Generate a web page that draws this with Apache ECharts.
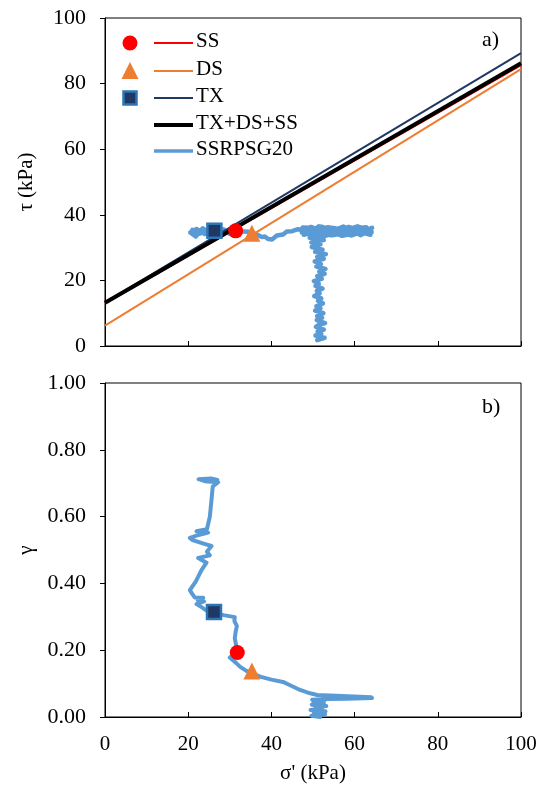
<!DOCTYPE html>
<html><head><meta charset="utf-8">
<script src="https://cdn.jsdelivr.net/npm/echarts@6/dist/echarts.min.js"></script>
<style>html,body{margin:0;padding:0;background:#fff}#c{width:550px;height:794px}</style>
</head><body><div id="c"></div>
<script>
// ---- data ----
const seriesNames = ['SS', 'DS', 'TX', 'TX+DS+SS', 'SSRPSG20'];
// failure envelopes (endpoints, sigma' kPa, tau kPa)
const lineSS = [[0, 13.0], [100, 85.6]];
const lineDS = [[0, 6.2], [100, 84.4]];
const lineTX = [[0, 13.3], [100, 89.3]];
const lineAll = [[0, 13.2], [100, 86.2]];
// test points (top: sigma', tau ; bottom: sigma', gamma)
const ptSS_top = [[31.4, 35.1]];
const ptDS_top = [[35.3, 34.4]];
const ptTX_top = [[26.3, 35.1]];
const ptSS_bot = [[31.8, 0.193]];
const ptDS_bot = [[35.3, 0.138]];
const ptTX_bot = [[26.2, 0.314]];
// stress path SSRPSG20 (sigma', tau)
const pathTau = [
  [51.0, 1.8], [52.8, 2.5], [50.6, 3.2], [52.0, 3.6], [51.1, 4.4], [52.6, 5.0], [50.7, 5.8],
  [51.5, 6.5], [52.9, 7.0], [50.9, 7.9], [52.2, 8.6], [51.0, 9.1], [52.5, 10.0], [50.5, 10.8],
  [51.8, 11.5], [50.8, 12.1], [52.4, 13.0], [51.2, 13.8], [52.0, 14.5], [50.3, 15.2],
  [51.6, 16.0], [50.9, 16.8], [52.3, 17.5], [50.6, 18.3], [51.4, 19.0], [50.2, 19.8],
  [52.1, 20.5], [51.0, 21.3], [52.8, 22.0], [51.5, 22.7], [53.0, 23.5], [50.8, 24.2],
  [51.9, 25.0], [50.4, 25.8], [52.6, 26.6], [51.0, 27.2], [53.1, 28.0], [50.5, 28.7],
  [52.3, 29.4], [49.7, 30.2], [51.8, 31.0], [49.6, 31.6], [52.6, 32.3], [49.2, 33.0],
  [51.5, 33.6], [48.6, 34.2], [52.3, 34.8],
  [55.0, 36.0], [60.2, 34.3], [64.0, 35.6], [61.5, 33.8], [57.3, 36.4], [52.5, 34.0],
  [48.2, 35.8], [50.8, 33.6], [56.1, 35.2], [62.8, 36.2], [63.6, 34.1], [59.0, 35.9],
  [54.3, 33.7], [49.5, 36.3], [47.3, 34.6], [51.9, 35.5], [58.4, 33.9], [61.9, 35.7],
  [64.1, 34.7], [60.7, 36.5], [55.8, 34.5], [50.2, 35.1], [47.8, 33.9], [53.6, 36.2],
  [59.7, 34.8], [63.2, 35.4], [57.9, 34.0], [52.0, 36.4], [48.6, 34.9], [54.7, 35.0],
  [62.0, 34.4], [56.5, 35.6], [47.5, 36.1], [52.8, 33.5], [58.6, 36.3], [63.8, 33.9],
  [60.4, 35.1], [54.9, 33.8], [49.1, 34.2], [51.4, 36.5], [57.0, 33.6], [62.4, 35.0],
  [64.2, 36.0], [59.3, 33.7], [53.1, 35.8], [48.0, 34.4], [47.2, 35.3],
  [46.4, 35.6], [45.0, 35.0], [43.7, 34.9], [42.8, 34.0], [41.3, 33.7], [40.2, 32.5],
  [39.2, 32.6], [38.4, 33.4], [37.7, 33.2], [36.5, 34.0], [34.5, 34.8], [32.0, 35.0],
  [30.0, 34.2], [28.5, 35.6], [27.0, 33.8], [25.5, 36.0], [24.0, 34.1], [22.0, 35.7],
  [20.5, 34.6], [21.8, 33.4], [23.5, 35.9], [25.0, 34.5], [27.5, 35.4], [26.0, 33.6],
  [23.0, 34.8], [21.0, 35.4], [22.6, 34.2], [24.5, 35.2]
];
// strain path SSRPSG20 (sigma', gamma)
const pathGamma = [
  [51.7, 0.000], [49.6, 0.004], [52.9, 0.008], [50.2, 0.012], [53.0, 0.017], [49.4, 0.021],
  [52.2, 0.025], [50.6, 0.029], [53.2, 0.033], [49.7, 0.037], [52.6, 0.041], [50.1, 0.045],
  [52.8, 0.049], [49.8, 0.052], [53.5, 0.054], [58.0, 0.055], [64.2, 0.057], [60.0, 0.060],
  [55.0, 0.061], [64.0, 0.059], [57.0, 0.063], [51.0, 0.066], [49.3, 0.071], [46.9, 0.081],
  [44.5, 0.095], [42.8, 0.105], [40.0, 0.112], [37.5, 0.120], [36.1, 0.127], [34.0, 0.138],
  [32.5, 0.150], [31.5, 0.162], [30.0, 0.178], [31.0, 0.186], [31.7, 0.195], [31.6, 0.210],
  [31.2, 0.235], [31.4, 0.255], [31.7, 0.272], [31.1, 0.288], [31.2, 0.299], [28.5, 0.305],
  [26.2, 0.312], [24.5, 0.318], [23.2, 0.329], [22.0, 0.338], [23.8, 0.346], [22.3, 0.350],
  [23.6, 0.357], [21.6, 0.358], [21.0, 0.368], [20.4, 0.380], [21.8, 0.405], [23.2, 0.440],
  [24.4, 0.462], [22.4, 0.476], [25.2, 0.484], [24.5, 0.495], [25.6, 0.512], [23.5, 0.520],
  [21.0, 0.530], [20.4, 0.536], [22.5, 0.545], [24.8, 0.552], [22.0, 0.556], [24.5, 0.562],
  [25.2, 0.600], [25.6, 0.650], [25.9, 0.690], [27.2, 0.703], [24.0, 0.706], [22.5, 0.712],
  [25.5, 0.714], [27.0, 0.710]
];
const xTickLabels = ['0', '20', '40', '60', '80', '100'];
const tauTickLabels = ['0', '20', '40', '60', '80', '100'];
const gammaTickLabels = ['0.00', '0.20', '0.40', '0.60', '0.80', '1.00'];

// ---- styles ----
const FONT = 'Liberation Serif, Times New Roman, serif';
const C_SS = '#ff0000', C_DS = '#ed7d31', C_TX = '#1f3864', C_ALL = '#000000', C_PATH = '#5b9bd5';
const chart = echarts.init(document.getElementById('c'), null, { renderer: 'canvas' });

function xAx(grid, showLabels) {
  return {
    type: 'value', gridIndex: grid, min: 0, max: 100, interval: 20,
    axisLine: { show: true, onZero: false, lineStyle: { color: '#000', width: 1 } },
    axisTick: { show: true, inside: true, length: 5, lineStyle: { color: '#000' } },
    splitLine: { show: false },
    axisLabel: showLabels ? {
      show: true, margin: 17, color: '#000', fontFamily: FONT, fontSize: 21,
      formatter: (v) => xTickLabels[Math.round(v / 20)]
    } : { show: false },
    name: showLabels ? "σ' (kPa)" : '',
    nameLocation: 'middle', nameGap: 46,
    nameTextStyle: { color: '#000', fontFamily: FONT, fontSize: 21 }
  };
}
function yAx(grid, max, interval, labels, name, gap) {
  return {
    type: 'value', gridIndex: grid, min: 0, max: max, interval: interval,
    axisLine: { show: true, onZero: false, lineStyle: { color: '#000', width: 1 } },
    axisTick: { show: true, inside: false, length: 5, lineStyle: { color: '#000' } },
    splitLine: { show: false },
    axisLabel: {
      margin: 19, color: '#000', fontFamily: FONT, fontSize: 22,
      formatter: (v) => labels[Math.round(v / interval)]
    },
    name: name, nameLocation: 'middle', nameGap: gap, nameRotate: 90,
    nameTextStyle: { color: '#000', fontFamily: FONT, fontSize: 21 }
  };
}
function envelope(data, color, width, z) {
  return {
    type: 'line', xAxisIndex: 0, yAxisIndex: 0, data: data, showSymbol: false, symbol: 'none',
    lineStyle: { color: color, width: width }, z: z, silent: true, animation: false, clip: true
  };
}
function marker(data, axis, symbol, size, color, border) {
  return {
    type: 'scatter', xAxisIndex: axis, yAxisIndex: axis, data: data, symbol: symbol, symbolSize: size,
    itemStyle: border ? { color: color, borderColor: '#2e75b6', borderWidth: 2.5, opacity: 1 } : { color: color, opacity: 1 },
    z: 10, silent: true, animation: false
  };
}

// legend drawn with graphic elements
const legendRowsY = [43, 71, 98, 125, 151];
const legendLineColors = [C_SS, C_DS, C_TX, C_ALL, C_PATH];
const legendLineWidths = [2, 2, 2, 4, 3.5];
const graphics = [];
seriesNames.forEach((n, i) => {
  graphics.push({ type: 'line', shape: { x1: 154, y1: legendRowsY[i], x2: 193, y2: legendRowsY[i] },
    style: { stroke: legendLineColors[i], lineWidth: legendLineWidths[i] }, z: 20 });
  graphics.push({ type: 'text', left: 196, top: legendRowsY[i] - 12,
    style: { text: n, fill: '#000', font: '21px ' + FONT }, z: 20 });
});
graphics.push({ type: 'circle', shape: { cx: 130, cy: 43, r: 7.5 }, style: { fill: C_SS }, z: 20 });
graphics.push({ type: 'polygon', shape: { points: [[130, 62], [138.5, 79], [121.5, 79]] }, style: { fill: C_DS }, z: 20 });
graphics.push({ type: 'rect', shape: { x: 123.5, y: 91.5, width: 13, height: 13 }, style: { fill: C_TX, stroke: '#2e75b6', lineWidth: 2.5 }, z: 20 });
graphics.push({ type: 'text', left: 482, top: 29, style: { text: 'a)', fill: '#000', font: '22px ' + FONT }, z: 20 });
graphics.push({ type: 'text', left: 482, top: 396, style: { text: 'b)', fill: '#000', font: '22px ' + FONT }, z: 20 });

chart.setOption({
  animation: false,
  backgroundColor: '#fff',
  grid: [
    { left: 105, top: 18, width: 416, height: 328, show: true, borderColor: '#000', borderWidth: 1, backgroundColor: 'transparent' },
    { left: 105, top: 383, width: 416, height: 334, show: true, borderColor: '#000', borderWidth: 1, backgroundColor: 'transparent' }
  ],
  xAxis: [xAx(0, false), xAx(1, true)],
  yAxis: [yAx(0, 100, 20, tauTickLabels, 'τ (kPa)', 68), yAx(1, 1, 0.2, gammaTickLabels, 'γ', 67)],
  graphic: graphics,
  series: [
    { name: 'SSRPSG20', type: 'line', xAxisIndex: 0, yAxisIndex: 0, data: pathTau, showSymbol: false, symbol: 'none',
      lineStyle: { color: C_PATH, width: 4.5, join: 'round', cap: 'round' }, z: 2, silent: true },
    { name: 'SSRPSG20 γ', type: 'line', xAxisIndex: 1, yAxisIndex: 1, data: pathGamma, showSymbol: false, symbol: 'none',
      lineStyle: { color: C_PATH, width: 4, join: 'round', cap: 'round' }, z: 2, silent: true },
    envelope(lineDS, C_DS, 2, 3),
    envelope(lineTX, C_TX, 2, 3),
    envelope(lineSS, C_SS, 2, 4),
    envelope(lineAll, C_ALL, 4, 5),
    marker(ptTX_top, 0, 'rect', 14, C_TX, true),
    marker(ptSS_top, 0, 'circle', 15, C_SS, false),
    marker(ptDS_top, 0, 'triangle', 17, C_DS, false),
    marker(ptTX_bot, 1, 'rect', 14, C_TX, true),
    marker(ptSS_bot, 1, 'circle', 15, C_SS, false),
    marker(ptDS_bot, 1, 'triangle', 17, C_DS, false)
  ]
});
</script></body></html>
